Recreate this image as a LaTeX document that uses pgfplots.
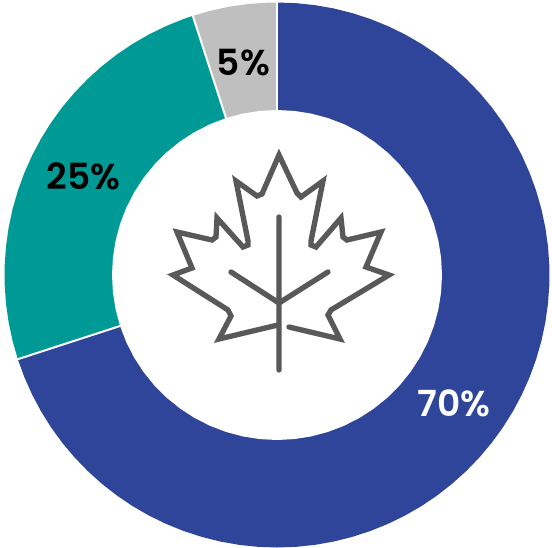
\documentclass[border=0pt]{standalone}
\usepackage{pgfplots}
\usepgfplotslibrary{polar}
\pgfplotsset{compat=1.18}
\usepackage{fontspec}
\setmainfont{Poppins SemiBold}
\definecolor{cblue}{HTML}{2E4599}
\definecolor{cteal}{HTML}{009A96}
\definecolor{cgrey}{HTML}{BFBFBF}
\definecolor{leaf}{HTML}{595959}
\newcommand{\lab}{\fontsize{27}{27}\selectfont}
\begin{document}
\begin{tikzpicture}[x=0.75pt,y=0.75pt]
\useasboundingbox (-277,-273) rectangle (275,275);
\begin{polaraxis}[
    at={(0,0)},anchor=center,
    scale only axis,width=408.75pt,height=408.75pt,
    hide axis,clip=false,
    xmin=0,xmax=360,ymin=0,ymax=272.5]
% 70 %
\addplot[fill=cblue,draw=none] coordinates {(0,0)
 (90,272.5)(86,272.5)(82,272.5)(78,272.5)(74,272.5)(70,272.5)(66,272.5)(62,272.5)(58,272.5)(54,272.5)
 (50,272.5)(46,272.5)(42,272.5)(38,272.5)(34,272.5)(30,272.5)(26,272.5)(22,272.5)(18,272.5)(14,272.5)
 (10,272.5)(6,272.5)(2,272.5)(-2,272.5)(-6,272.5)(-10,272.5)(-14,272.5)(-18,272.5)(-22,272.5)(-26,272.5)
 (-30,272.5)(-34,272.5)(-38,272.5)(-42,272.5)(-46,272.5)(-50,272.5)(-54,272.5)(-58,272.5)(-62,272.5)(-66,272.5)
 (-70,272.5)(-74,272.5)(-78,272.5)(-82,272.5)(-86,272.5)(-90,272.5)(-94,272.5)(-98,272.5)(-102,272.5)(-106,272.5)
 (-110,272.5)(-114,272.5)(-118,272.5)(-122,272.5)(-126,272.5)(-130,272.5)(-134,272.5)(-138,272.5)(-142,272.5)(-146,272.5)
 (-150,272.5)(-154,272.5)(-158,272.5)(-162,272.5)} -- cycle;
% 25 %
\addplot[fill=cteal,draw=none] coordinates {(0,0)
 (198,272.5)(194,272.5)(190,272.5)(186,272.5)(182,272.5)(178,272.5)(174,272.5)(170,272.5)(166,272.5)(162,272.5)
 (158,272.5)(154,272.5)(150,272.5)(146,272.5)(142,272.5)(138,272.5)(134,272.5)(130,272.5)(126,272.5)(122,272.5)
 (118,272.5)(114,272.5)(110,272.5)(108,272.5)} -- cycle;
% 5 %
\addplot[fill=cgrey,draw=none] coordinates {(0,0)
 (108,272.5)(104,272.5)(100,272.5)(96,272.5)(92,272.5)(90,272.5)} -- cycle;
% slice separators
\addplot[white,line width=1.5pt] coordinates {(198,150)(198,274)};
\addplot[white,line width=1.5pt] coordinates {(108,150)(108,274)};
\addplot[white,line width=1.5pt] coordinates {(90,150)(90,274)};
% hole
\addplot[fill=white,draw=none] coordinates {
 (0,165)(6,165)(12,165)(18,165)(24,165)(30,165)(36,165)(42,165)(48,165)(54,165)
 (60,165)(66,165)(72,165)(78,165)(84,165)(90,165)(96,165)(102,165)(108,165)(114,165)
 (120,165)(126,165)(132,165)(138,165)(144,165)(150,165)(156,165)(162,165)(168,165)(174,165)
 (180,165)(186,165)(192,165)(198,165)(204,165)(210,165)(216,165)(222,165)(228,165)(234,165)
 (240,165)(246,165)(252,165)(258,165)(264,165)(270,165)(276,165)(282,165)(288,165)(294,165)
 (300,165)(306,165)(312,165)(318,165)(324,165)(330,165)(336,165)(342,165)(348,165)(354,165)} -- cycle;
% maple leaf
\addplot[data cs=cart,leaf,line width=4pt,line cap=round,miter limit=10] coordinates {
 (1,-50)(-58,-64)(-46,-41)(-49,-35)(-104,0)(-85,7)(-100,43)(-65,35)(-61,38)(-60,57)
 (-34,28)(-29,30)(-29,34)(-41,94)(-20,79)(-15,81)(2,120)(20,82)(24,78)(46,94)
 (34,34)(34,30)(39,28)(64,57)(66,38)(70,35)(104,43)(89,8)(112,0)(54,-35)
 (51,-40)(63,-64)(12,-52)};
\addplot[data cs=cart,leaf,line width=4pt,line cap=round] coordinates {(2,58)(2,-95)};
\addplot[data cs=cart,leaf,line width=4pt,line cap=round] coordinates {(-46,3)(2,-28)(51,3)};
\node[white,font=\lab] at (axis cs:-36,219) {70\%};
\node[black,font=\lab] at (axis cs:153,217) {25\%};
\node[black,font=\lab] at (axis cs:99,215) {5\%};
\end{polaraxis}
\end{tikzpicture}
\end{document}
